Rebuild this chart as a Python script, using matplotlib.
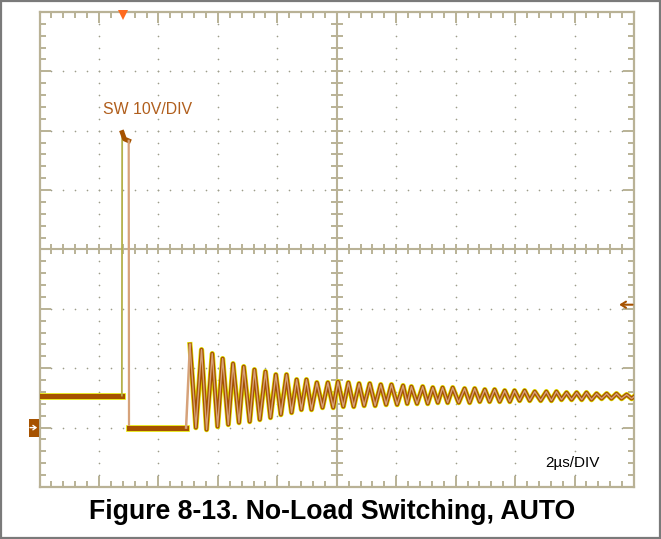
import numpy as np
import matplotlib
matplotlib.use("Agg")
import matplotlib.pyplot as plt
from matplotlib.patches import Rectangle

plt.rcParams['font.family'] = ['Liberation Sans', 'DejaVu Sans']

# scope settings: 2 us/div, 10 V/div, ground one division above the bottom
T_DIV = 2.0
V_DIV = 10.0
N_XDIV = 10
N_YDIV = 8
V_BOTTOM = -10.0

# switching pulse (us, V)
pulse_t = [0.0, 2.77, 2.78, 2.86, 3.00, 3.01, 4.93]
pulse_v = [5.4, 5.4, 49.7, 48.6, 48.3, 0.0, 0.0]

# ringing after the dead time: successive peaks and troughs (us, V)
ring_t = [4.93, 5.06, 5.26, 5.45, 5.62, 5.81, 5.99, 6.16, 6.35, 6.51, 6.71,
          6.87, 7.07, 7.23, 7.41, 7.60, 7.77, 7.95, 8.12, 8.31, 8.48,
          8.65, 8.81, 8.98, 9.15, 9.33, 9.52, 9.70, 9.88, 10.04, 10.22,
          10.39, 10.57, 10.75, 10.92, 11.11, 11.29, 11.48, 11.66, 11.84, 12.03,
          12.23, 12.37, 12.51, 12.70, 12.89, 13.06, 13.23, 13.40, 13.56, 13.73,
          13.90, 14.10, 14.30, 14.47, 14.64, 14.81, 14.98, 15.14, 15.31, 15.48,
          15.65, 15.82, 15.98, 16.15, 16.32, 16.49, 16.66, 16.86, 17.05, 17.22,
          17.39, 17.56, 17.73, 17.90, 18.07, 18.24, 18.40, 18.57, 18.74, 18.91,
          19.08, 19.24, 19.41, 19.58, 19.75, 19.92, 20.0]
ring_v = [0.0, 13.97, 0.0, 13.13, -0.34, 12.46, 0.17, 11.62, 0.51, 10.77, 0.84,
          10.27, 1.01, 9.76, 1.35, 9.43, 1.68, 8.92, 2.19, 8.92, 2.53,
          8.08, 3.03, 8.08, 3.03, 7.58, 3.37, 7.58, 3.37, 7.74, 3.54,
          7.58, 3.54, 7.41, 3.70, 7.41, 3.70, 7.24, 3.87, 7.24, 3.87,
          7.07, 4.04, 6.90, 4.04, 6.90, 4.04, 6.73, 4.21, 6.73, 4.21,
          6.73, 4.21, 6.57, 4.21, 6.57, 4.38, 6.40, 4.38, 6.40, 4.38,
          6.23, 4.38, 6.23, 4.55, 6.23, 4.55, 6.06, 4.55, 6.06, 4.55,
          6.06, 4.71, 5.89, 4.71, 5.89, 4.71, 5.89, 4.71, 5.72, 4.88,
          5.72, 4.88, 5.72, 4.88, 5.56, 4.88, 5.22]

trig_t = 2.82      # trigger position marker
trig_v = 20.7      # trigger level marker

GRID = '#b9b296'
BROWN = '#a65200'
TAN = '#d6a27a'
YELLOW = '#e4e400'

fig = plt.figure(figsize=(6.61, 5.39), dpi=100)
fig.patches.append(Rectangle((0.001, 0.002), 0.997, 0.996, transform=fig.transFigure,
                             fill=False, edgecolor='#7a7a7a', linewidth=1.6))
ax = fig.add_axes([0.0598, 0.0965, 0.8994, 0.8813])

x0, x1 = 0.0, N_XDIV * T_DIV
y0, y1 = V_BOTTOM, V_BOTTOM + N_YDIV * V_DIV
ax.set_xlim(x0, x1)
ax.set_ylim(y0, y1)

# graticule: edge ticks, dotted grid, centre cross
ax.set_xticks(np.arange(x0, x1 + 0.01, T_DIV))
ax.set_xticks(np.arange(x0, x1 + 0.01, T_DIV / 5), minor=True)
ax.set_yticks(np.arange(y0, y1 + 0.01, V_DIV))
ax.set_yticks(np.arange(y0, y1 + 0.01, V_DIV / 5), minor=True)
ax.tick_params(which='both', direction='in', top=True, right=True,
               labelbottom=False, labelleft=False, color=GRID, width=1.4)
ax.tick_params(which='major', length=8)
ax.tick_params(which='minor', length=4)
for s in ax.spines.values():
    s.set_color(GRID)
    s.set_linewidth(1.6)

xm = np.arange(x0, x1 + 0.01, T_DIV / 5)
ym = np.arange(y0, y1 + 0.01, V_DIV / 5)
xc = (x0 + x1) / 2
yc = (y0 + y1) / 2
for xv in np.arange(x0 + T_DIV, x1, T_DIV):
    if abs(xv - xc) > 1e-6:
        ax.scatter(np.full_like(ym, xv), ym, s=1.4, color='#9d9d8a', lw=0, zorder=1)
for yv in np.arange(y0 + V_DIV, y1, V_DIV):
    if abs(yv - yc) > 1e-6:
        ax.scatter(xm, np.full_like(xm, yv), s=1.4, color='#9d9d8a', lw=0, zorder=1)
ax.axhline(yc, color=GRID, lw=1.5, zorder=1)
ax.axvline(xc, color=GRID, lw=1.5, zorder=1)
ax.plot(xm, np.full_like(xm, yc), ls='none', marker='|', ms=7, mew=1.4, color=GRID, zorder=1)
ax.plot(np.full_like(ym, xc), ym, ls='none', marker='_', ms=9, mew=1.4, color=GRID, zorder=1)

# SW trace: persistence halo, then the trace itself
ax.plot(pulse_t[:2], pulse_v[:2], color=YELLOW, lw=4.8, zorder=3)
ax.plot(pulse_t[5:], pulse_v[5:], color=YELLOW, lw=4.8, zorder=3)
ax.plot(ring_t[1:], ring_v[1:], color=YELLOW, lw=3.8, zorder=3)
ax.plot(ring_t[1:], ring_v[1:], color=BROWN, lw=2.8, zorder=4)
ax.plot(ring_t[1:], ring_v[1:], color=TAN, lw=1.0, zorder=5)
ax.plot(pulse_t[:2], pulse_v[:2], color=BROWN, lw=3.6, zorder=5)
ax.plot(pulse_t[1:3], pulse_v[1:3], color='#b4b04a', lw=1.3, zorder=5)
ax.plot(pulse_t[2:5], pulse_v[2:5], color=BROWN, lw=3.4, zorder=5)
ax.plot(pulse_t[4:6], pulse_v[4:6], color=TAN, lw=1.6, zorder=5)
ax.plot(pulse_t[5:], pulse_v[5:], color=BROWN, lw=3.6, zorder=5)
ax.plot(ring_t[:2], ring_v[:2], color=TAN, lw=1.8, zorder=5)

# markers: trigger position, trigger level, ground reference
ax.plot(trig_t, y1 - 0.5, marker='v', ms=7, color='#ff6a1e', mew=0, clip_on=False, zorder=6)
ax.annotate('', xy=(x1 - 0.5, trig_v), xytext=(x1 - 0.05, trig_v),
            arrowprops=dict(arrowstyle='->,head_length=0.35,head_width=0.22',
                            color=BROWN, lw=1.5, shrinkA=0, shrinkB=0), zorder=6)
ax.add_patch(Rectangle((-0.36, -1.5), 0.34, 3.0, fc=BROWN, ec='none',
                       clip_on=False, zorder=6))
ax.annotate('', xy=(-0.08, 0.0), xytext=(-0.32, 0.0), annotation_clip=False,
            arrowprops=dict(arrowstyle='->,head_length=0.22,head_width=0.16',
                            color='white', lw=1.0, shrinkA=0, shrinkB=0), zorder=7)

ax.text(2.15, 53.6, 'SW 10V/DIV', color='#b05e1c', fontsize=11.4, ha='left', va='center')
ax.text(17.0, -6.0, '2\u00b5s/DIV', color='black', fontsize=11, ha='left', va='center')

fig.text(0.503, 0.050, 'Figure 8-13. No-Load Switching, AUTO', ha='center', va='center',
         fontsize=19.2, fontweight='bold')

fig.savefig('out.png', dpi=100)
